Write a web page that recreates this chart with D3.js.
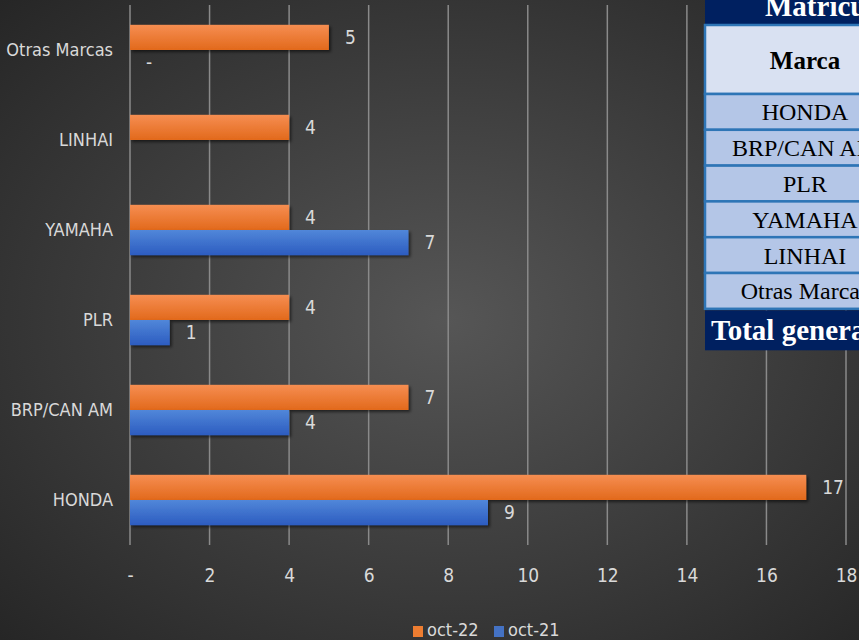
<!DOCTYPE html>
<html><head><meta charset="utf-8">
<script src="https://cdn.jsdelivr.net/npm/d3@7"></script>
<style>
html,body{margin:0;padding:0;background:#333;overflow:hidden;}
svg{display:block;}
</style></head>
<body>
<svg id="c" width="859" height="640"></svg>
<script>
const categories = ["HONDA","BRP/CAN AM","PLR","YAMAHA","LINHAI","Otras Marcas"];
const seriesNames = ["oct-22","oct-21"];
const oct22 = [17,7,4,4,4,5];
const oct21 = [9,4,1,7,null,0];
const xTicks = [0,2,4,6,8,10,12,14,16,18];
const tableTitle = "Matrículas";
const tableHeader = "Marca";
const tableBrands = ["HONDA","BRP/CAN AM","PLR","YAMAHA","LINHAI","Otras Marcas"];
const tableTotal = "Total general";

const W = 859, H = 640;
const svg = d3.select("#c");
const defs = svg.append("defs");
const bg = defs.append("radialGradient").attr("id","bg").attr("cx","52%").attr("cy","50%").attr("r","72%");
bg.append("stop").attr("offset","0%").attr("stop-color","#565656");
bg.append("stop").attr("offset","100%").attr("stop-color","#262626");
const og = defs.append("linearGradient").attr("id","og").attr("x1",0).attr("y1",0).attr("x2",0).attr("y2",1);
og.append("stop").attr("offset","0%").attr("stop-color","#f68e52");
og.append("stop").attr("offset","100%").attr("stop-color","#e2691b");
const bgr = defs.append("linearGradient").attr("id","bgr").attr("x1",0).attr("y1",0).attr("x2",0).attr("y2",1);
bgr.append("stop").attr("offset","0%").attr("stop-color","#5187d9");
bgr.append("stop").attr("offset","100%").attr("stop-color","#2c5cc0");
const sh = defs.append("filter").attr("id","sh").attr("x","-5%").attr("y","-20%").attr("width","115%").attr("height","160%");
sh.append("feDropShadow").attr("dx",2).attr("dy",2).attr("stdDeviation",1.5).attr("flood-color","#000").attr("flood-opacity",0.55);

svg.append("rect").attr("width",W).attr("height",H).attr("fill","url(#bg)");

const font = "'Liberation Sans Narrow','DejaVu Sans Condensed',sans-serif";
const fs = 18;
const x = d3.scaleLinear().domain([0,18]).range([130,846]);
const y = d3.scaleBand().domain(categories.slice().reverse()).range([5,545]).paddingInner(0.44).paddingOuter(0.22);
const inner = d3.scaleBand().domain(seriesNames).range([0,y.bandwidth()]);

// gridlines
svg.append("g").selectAll("line").data(xTicks).join("line")
  .attr("x1",d=>x(d)).attr("x2",d=>x(d)).attr("y1",5).attr("y2",545)
  .attr("stroke","#8a8a8a").attr("stroke-width",1.5);

// bars
const data = [];
categories.forEach((c,i)=>{
  data.push({c, s:"oct-22", v:oct22[i]});
  data.push({c, s:"oct-21", v:oct21[i]});
});
const bars = svg.append("g");
bars.selectAll("rect").data(data.filter(d=>d.v)).join("rect")
  .attr("x",x(0)).attr("y",d=>y(d.c)+inner(d.s))
  .attr("width",d=>x(d.v)-x(0)).attr("height",inner.bandwidth())
  .attr("fill",d=>d.s==="oct-22"?"url(#og)":"url(#bgr)")
  .attr("filter","url(#sh)");

// value labels
svg.append("g").selectAll("text").data(data.filter(d=>d.v!==null)).join("text")
  .attr("x",d=>x(d.v)+16).attr("y",d=>y(d.c)+inner(d.s)+inner.bandwidth()/2)
  .attr("dy","0.35em").attr("fill","#d9d9d9").attr("font-family",font).attr("font-size",fs+1)
  .text(d=>d.v===0?"-":d.v);

// category labels
svg.append("g").selectAll("text").data(categories).join("text")
  .attr("x",113).attr("y",d=>y(d)+y.bandwidth()/2).attr("dy","0.35em")
  .attr("text-anchor","end").attr("fill","#d9d9d9").attr("font-family",font).attr("font-size",fs)
  .text(d=>d);

// x axis tick labels
const ax = svg.append("g").attr("transform","translate(0,575)")
  .call(d3.axisBottom(x).tickValues(xTicks).tickSize(0).tickFormat(d=>d===0?"-":d));
ax.select(".domain").remove();
ax.selectAll("text").attr("fill","#d9d9d9").attr("font-family",font).attr("font-size",fs+1).attr("dy","0.35em").attr("y",0);

// legend
const lg = svg.append("g").attr("transform","translate(0,630)");
const lItems = [{n:"oct-22",c:"#ed7d31",x:413},{n:"oct-21",c:"#4472c4",x:494}];
lItems.forEach(it=>{
  lg.append("rect").attr("x",it.x).attr("y",-4).attr("width",10).attr("height",11).attr("fill",it.c);
  lg.append("text").attr("x",it.x+14).attr("y",0).attr("dy","0.35em").attr("fill","#d9d9d9")
    .attr("font-family",font).attr("font-size",fs).text(it.n);
});

// table
const serif = "'Liberation Serif','DejaVu Serif',serif";
const tx = 705, tw = 200, cx = 805;
const t = svg.append("g");
t.append("rect").attr("x",tx).attr("y",-10).attr("width",tw+20).attr("height",34).attr("fill","#002060");
t.append("text").attr("x",765).attr("y",16).attr("fill","#fff").attr("font-family",serif)
  .attr("font-weight","bold").attr("font-size",29).text(tableTitle);
t.append("rect").attr("x",tx).attr("y",25).attr("width",tw).attr("height",69).attr("fill","#d9e1f2")
  .attr("stroke","#2e75b6").attr("stroke-width",2.5);
t.append("text").attr("x",cx).attr("y",60).attr("dy","0.35em").attr("text-anchor","middle")
  .attr("font-family",serif).attr("font-weight","bold").attr("font-size",25).attr("fill","#000").text(tableHeader);
const rh = 35.8, r0 = 94;
t.selectAll("rect.row").data(tableBrands).join("rect").attr("class","row")
  .attr("x",tx).attr("y",(d,i)=>r0+i*rh).attr("width",tw).attr("height",rh)
  .attr("fill","#b4c6e7").attr("stroke","#2e75b6").attr("stroke-width",2.5);
t.selectAll("text.row").data(tableBrands).join("text").attr("class","row")
  .attr("x",cx).attr("y",(d,i)=>r0+i*rh+rh/2).attr("dy","0.35em").attr("text-anchor","middle")
  .attr("font-family",serif).attr("font-size",24).attr("fill","#000").text(d=>d);
const ty = r0+tableBrands.length*rh+1.5;
t.append("rect").attr("x",tx).attr("y",ty).attr("width",tw).attr("height",40).attr("fill","#002060");
t.append("text").attr("x",711).attr("y",ty+20).attr("dy","0.35em").attr("fill","#fff").attr("font-family",serif)
  .attr("font-weight","bold").attr("font-size",29).text(tableTotal);
</script>
</body></html>
